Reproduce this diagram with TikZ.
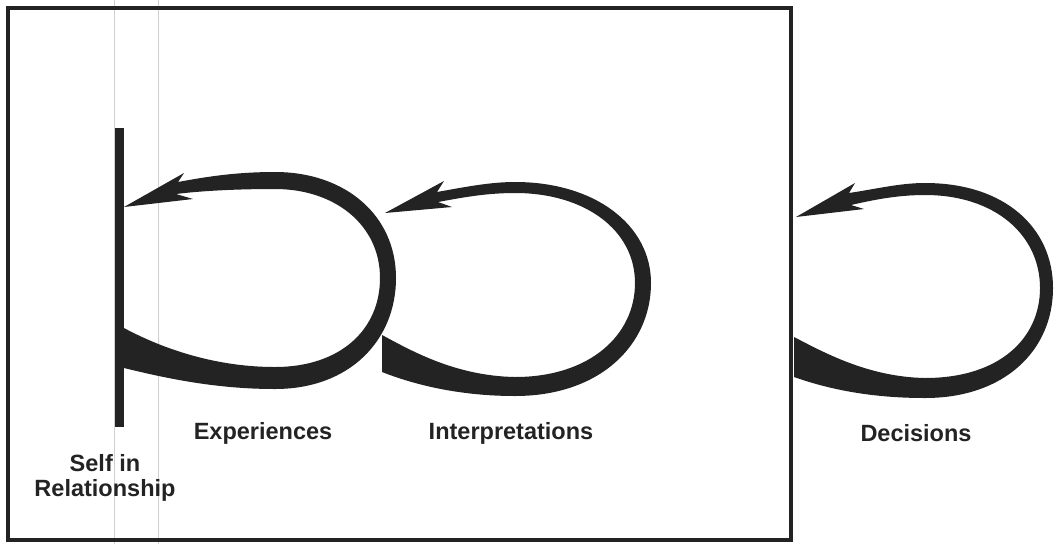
\documentclass[tikz,border=0pt]{standalone}
\usepackage{fontspec}
\setmainfont{Liberation Sans}
\definecolor{inkc}{HTML}{232323}
\definecolor{scanc}{HTML}{CFCFCF}
\tikzset{
  ink/.style={fill=inkc, draw=none},
  framebox/.style={draw=inkc, line width=3.8pt},
  scanline/.style={draw=scanc, line width=0.9pt},
  lbl/.style={font=\fontsize{23.5}{25}\selectfont\bfseries, text=inkc, inner sep=0pt, align=center},
}
\begin{document}
\begin{tikzpicture}[x=1pt, y=-1pt]
\useasboundingbox (0,0) rectangle (1056,544);
\fill[white] (0,0) rectangle (1056,544);
% faint scan lines
\draw[scanline] (114,0) -- (114,544);
\draw[scanline] (158,0) -- (158,544);
% frame
\draw[framebox] (8,8) rectangle (791,540);
% self bar
\fill[ink] (115,128) rectangle (124,427);
% loop 1
\fill[ink] (124,328) .. controls (150,342) and (205,367) .. (275,367)
  .. controls (340,367) and (380,330) .. (380,278)
  .. controls (380,225) and (335,189) .. (275,189)
  .. controls (235,189) and (200,191) .. (176,194)
  -- (193,199) -- (124,207) -- (184,173) -- (178,182)
  .. controls (205,177) and (235,172) .. (275,172)
  .. controls (345,172) and (396,215) .. (396,278)
  .. controls (396,340) and (350,389) .. (275,389)
  .. controls (215,389) and (165,378) .. (124,368) -- cycle;
% loop 2
\fill[ink] (382,335) .. controls (410,350) and (455,376) .. (515,377)
  .. controls (590,377) and (635,335) .. (635,283)
  .. controls (635,230) and (585,193) .. (515,193)
  .. controls (485,193) and (460,198) .. (438,202)
  -- (452,207) -- (385,213) -- (444,181) -- (437,192)
  .. controls (465,187) and (490,182) .. (515,182)
  .. controls (595,182) and (651,225) .. (651,283)
  .. controls (651,345) and (600,396) .. (515,396)
  .. controls (460,396) and (415,385) .. (382,372) -- cycle;
% loop 3
\fill[ink] (794,337) .. controls (823,352) and (868,377) .. (925,378)
  .. controls (1000,378) and (1040,338) .. (1040,288)
  .. controls (1040,235) and (995,195) .. (925,195)
  .. controls (897,195) and (873,200) .. (851,205)
  -- (864,209) -- (796,217) -- (855,183) -- (849,193)
  .. controls (876,189) and (900,183) .. (925,183)
  .. controls (1005,183) and (1053,228) .. (1053,288)
  .. controls (1053,350) and (1005,398) .. (925,398)
  .. controls (870,398) and (828,389) .. (794,377) -- cycle;
% labels
\node[lbl] (exp) at (263,433) {Experiences};
\node[lbl] (int) at (511,433) {Interpretations};
\node[lbl] (dec) at (916,433) {Decisions};
\node[lbl] (self) at (105,478) {Self in\\Relationship};
\end{tikzpicture}
\end{document}
